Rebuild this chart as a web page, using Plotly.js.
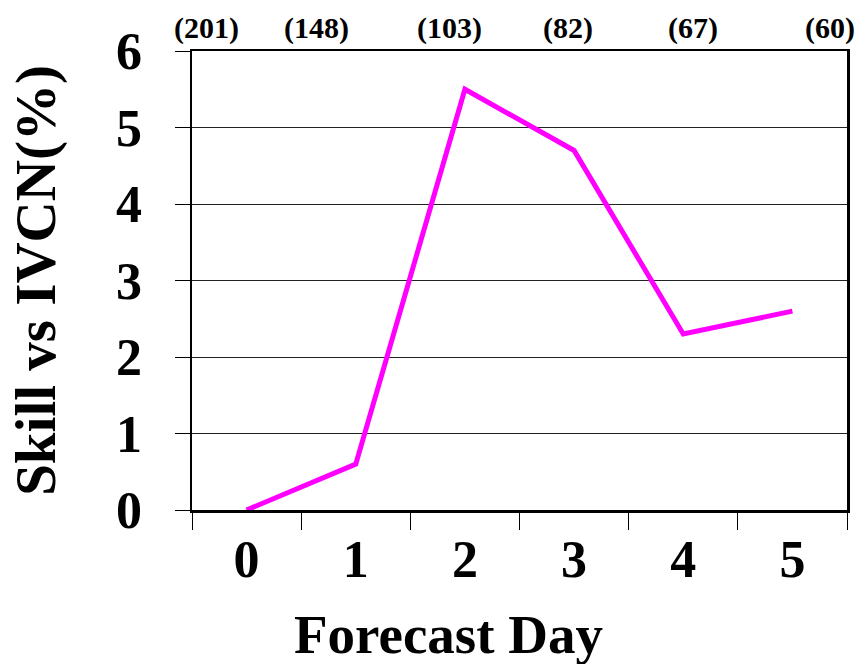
<!DOCTYPE html>
<html>
<head>
<meta charset="utf-8">
<script src="https://cdn.plot.ly/plotly-3.0.1.min.js"></script>
<style>html,body{margin:0;padding:0;background:#fff;}#chart{width:860px;height:664px;}</style>
</head>
<body>
<div id="chart"></div>
<script>
const days = ["0", "1", "2", "3", "4", "5"];
const skill = [0, 0.6, 5.5, 4.7, 2.3, 2.6];
const caseCounts = ["(201)", "(148)", "(103)", "(82)", "(67)", "(60)"];
const countPos = [-0.37, 0.64, 1.86, 2.94, 4.09, 5.34];
const xTitle = "Forecast Day";
const yTitle = "Skill vs IVCN(%)";

const font = "Liberation Serif, Times New Roman, serif";

const annotations = caseCounts.map((t, i) => ({
  x: countPos[i], xref: "x", y: 1, yref: "paper", yshift: 23,
  text: "<b>" + t + "</b>", showarrow: false,
  font: {family: font, size: 30, color: "#000"}, xanchor: "center", yanchor: "middle"
}));
annotations.push({
  x: 0.391, xref: "paper", y: 0, yref: "paper", yshift: -124,
  text: "<b>" + xTitle + "</b>", showarrow: false,
  font: {family: font, size: 55, color: "#000"}, xanchor: "center", yanchor: "middle"
});

Plotly.newPlot("chart", [{
  x: days, y: skill, type: "scatter", mode: "lines",
  line: {color: "#ff00ff", width: 5}, cliponaxis: false
}], {
  width: 860, height: 664,
  margin: {l: 192, r: 13, t: 51, b: 154},
  paper_bgcolor: "#fff", plot_bgcolor: "#fff",
  showlegend: false,
  font: {family: font, color: "#000"},
  xaxis: {
    type: "category", tickson: "boundaries", range: [-0.5, 5.5], autorange: false,
    automargin: false,
    ticks: "outside", ticklen: 17, tickwidth: 1, tickcolor: "#000",
    showline: true, linecolor: "#000", linewidth: 2.5, mirror: true,
    showgrid: false, zeroline: false,
    tickfont: {family: font, size: 52, color: "#000", weight: "bold"},
    ticklabelstandoff: 2
  },
  yaxis: {
    range: [0, 6], autorange: false, dtick: 1, tick0: 0, automargin: false,
    ticks: "outside", ticklen: 15, tickwidth: 1, tickcolor: "#000",
    showline: true, linecolor: "#000", linewidth: 2.5, mirror: true,
    showgrid: true, gridcolor: "#222", gridwidth: 1, zeroline: false,
    tickfont: {family: font, size: 52, color: "#000", weight: "bold"},
    ticklabelstandoff: 22,
    title: {text: "<b>" + yTitle + "</b>", font: {family: font, size: 57, color: "#000"}, standoff: 42}
  },
  annotations: annotations
}, {staticPlot: true});
</script>
</body>
</html>
